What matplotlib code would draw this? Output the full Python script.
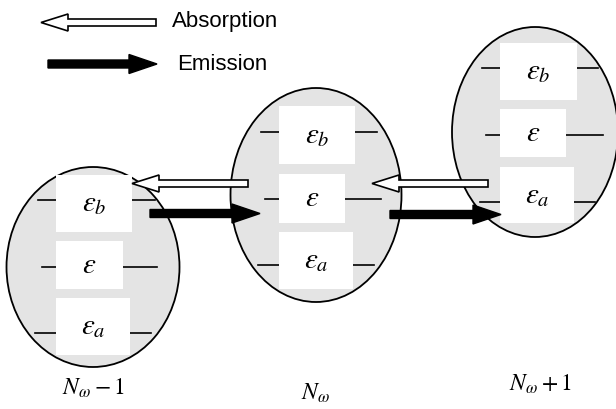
import matplotlib.pyplot as plt
from matplotlib.patches import Ellipse, Rectangle, FancyArrow

plt.rcParams['mathtext.fontset'] = 'stix'

# labels
level_labels = [r'$\varepsilon_b$', r'$\varepsilon$', r'$\varepsilon_a$']
state_labels = [r'$N_\omega - 1$', r'$N_\omega$', r'$N_\omega + 1$']
legend_labels = ['Absorption', 'Emission']

# layout in pixel units (x right, y down)
ell_cx = [93, 316, 535]
ell_cy = [267, 195, 132]
ell_w = [173, 171, 166]
ell_h = [200, 214, 210]
# per state, per level: (box x0, box x1, box y0, box y1, line y, line left start, line right end)
levels = [
    [(56, 132, 175, 232, 200, 38, 155), (56, 123, 241, 289, 267, 42, 157), (56, 130, 298, 355, 333, 35, 151)],
    [(279, 355, 106, 164, 132, 261, 377), (279, 345, 174, 223, 199, 265, 381), (279, 353, 232, 289, 265, 258, 374)],
    [(500, 577, 43, 100, 68, 482, 598), (500, 566, 109, 157, 135, 486, 603), (500, 574, 167, 223, 202, 480, 595)],
]
label_x = [93, 316, 540]
label_y = [388, 393, 384]

fig = plt.figure(figsize=(6.16, 4.09), dpi=100)
ax = fig.add_axes([0, 0, 1, 1])
ax.set_xlim(0, 616)
ax.set_ylim(409, 0)
ax.axis('off')

for i in range(3):
    ax.add_patch(Ellipse((ell_cx[i], ell_cy[i]), ell_w[i], ell_h[i],
                         facecolor='#e4e4e4', edgecolor='black', lw=1.3, zorder=1))
    for j, (bx0, bx1, by0, by1, ly, lx0, lx1) in enumerate(levels[i]):
        ax.plot([lx0, bx0], [ly, ly], color='black', lw=1.2, zorder=2)
        ax.plot([bx1, lx1], [ly, ly], color='black', lw=1.2, zorder=2)
        ax.add_patch(Rectangle((bx0, by0), bx1 - bx0, by1 - by0,
                               facecolor='white', edgecolor='none', zorder=3))
        ax.text((bx0 + bx1) / 2, (by0 + by1) / 2, level_labels[j], fontsize=21,
                ha='center', va='center', zorder=4)
    ax.text(label_x[i], label_y[i], state_labels[i], fontsize=17,
            ha='center', va='center')


def absorb(x0, x1, y):
    ax.add_patch(FancyArrow(x0, y, x1 - x0, 0, width=7, head_width=17,
                            head_length=27, length_includes_head=True,
                            facecolor='white', edgecolor='black', lw=1.2, zorder=5))


def emit(x0, x1, y):
    ax.add_patch(FancyArrow(x0, y, x1 - x0, 0, width=8, head_width=19,
                            head_length=28, length_includes_head=True,
                            facecolor='black', edgecolor='black', lw=1, zorder=5))


absorb(248, 132, 183.5)
absorb(488, 372, 183.5)
emit(150, 260, 213.5)
emit(390, 501, 214.5)

# legend
absorb(156, 41, 22.5)
emit(48, 157, 64)
ax.text(172, 22, legend_labels[0], fontsize=16, family='Liberation Sans',
        ha='left', va='center')
ax.text(177, 64, legend_labels[1], fontsize=16, family='Liberation Sans',
        ha='left', va='center')

fig.savefig('out.png', dpi=100)
